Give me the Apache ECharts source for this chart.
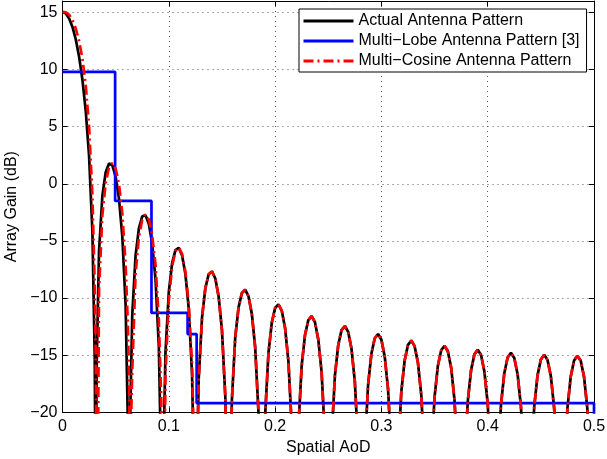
<!DOCTYPE html>
<html><head><meta charset="utf-8">
<script src="https://cdn.jsdelivr.net/npm/echarts@6/dist/echarts.min.js"></script>
<style>html,body{margin:0;padding:0;background:#fff}#c{width:607px;height:459px}</style>
</head><body><div id="c"></div>
<script>
// Spatial AoD sample positions
const aod = [
 0, 0.003125, 0.00625, 0.009375, 0.0125, 0.015625, 0.01875, 0.021875, 0.025, 0.028125, 0.030313, 0.030938, 0.03125,
 0.031563, 0.032188, 0.034375, 0.0375, 0.040625, 0.04375, 0.046875, 0.05, 0.053125, 0.05625, 0.059375, 0.061563, 0.0625,
 0.063438, 0.065625, 0.06875, 0.071875, 0.075, 0.078125, 0.08125, 0.084375, 0.0875, 0.090625, 0.092813, 0.09375,
 0.094688, 0.096875, 0.1, 0.103125, 0.10625, 0.109375, 0.1125, 0.115625, 0.11875, 0.121875, 0.124063, 0.125,
 0.125938, 0.128125, 0.13125, 0.134375, 0.1375, 0.140625, 0.14375, 0.146875, 0.15, 0.153125, 0.155313, 0.15625,
 0.157188, 0.159375, 0.1625, 0.165625, 0.16875, 0.171875, 0.175, 0.178125, 0.18125, 0.184375, 0.186563, 0.1875,
 0.188438, 0.190625, 0.19375, 0.196875, 0.2, 0.203125, 0.20625, 0.209375, 0.2125, 0.215625, 0.217813, 0.21875,
 0.219688, 0.221875, 0.225, 0.228125, 0.23125, 0.234375, 0.2375, 0.240625, 0.24375, 0.246875, 0.249063, 0.25,
 0.250938, 0.253125, 0.25625, 0.259375, 0.2625, 0.265625, 0.26875, 0.271875, 0.275, 0.278125, 0.280313, 0.28125,
 0.282188, 0.284375, 0.2875, 0.290625, 0.29375, 0.296875, 0.3, 0.303125, 0.30625, 0.309375, 0.311563, 0.3125,
 0.313438, 0.315625, 0.31875, 0.321875, 0.325, 0.328125, 0.33125, 0.334375, 0.3375, 0.340625, 0.342813, 0.34375,
 0.344688, 0.346875, 0.35, 0.353125, 0.35625, 0.359375, 0.3625, 0.365625, 0.36875, 0.371875, 0.374063, 0.375,
 0.375938, 0.378125, 0.38125, 0.384375, 0.3875, 0.390625, 0.39375, 0.396875, 0.4, 0.403125, 0.405313, 0.40625,
 0.407188, 0.409375, 0.4125, 0.415625, 0.41875, 0.421875, 0.425, 0.428125, 0.43125, 0.434375, 0.436563, 0.4375,
 0.438438, 0.440625, 0.44375, 0.446875, 0.45, 0.453125, 0.45625, 0.459375, 0.4625, 0.465625, 0.467813, 0.46875,
 0.469688, 0.471875, 0.475, 0.478125, 0.48125, 0.484375, 0.4875, 0.490625, 0.49375, 0.496875, 0.499063, 0.5
];
// Actual antenna pattern (dB)
const actualGain = [
 15.05, 14.91, 14.47, 13.73, 12.63, 11.13, 9.11, 6.37, 2.44, -4.17, -15.14, -24.85, -40,
 -25.02, -15.66, -5.90, -1.07, 1.01, 1.78, 1.62, 0.63, -1.30, -4.57, -10.62, -21.25, -40,
 -21.51, -11.47, -6.29, -3.89, -2.85, -2.76, -3.53, -5.26, -8.34, -14.22, -24.75, -40,
 -24.92, -14.78, -9.47, -6.95, -5.80, -5.60, -6.27, -7.90, -10.90, -16.70, -27.17, -40,
 -27.30, -17.11, -11.72, -9.14, -7.92, -7.67, -8.29, -9.86, -12.81, -18.56, -29.00, -40,
 -29.09, -18.88, -13.45, -10.82, -9.56, -9.27, -9.85, -11.39, -14.30, -20.02, -30.43, -40,
 -30.51, -20.27, -14.81, -12.16, -10.87, -10.55, -11.10, -12.62, -15.50, -21.19, -31.59, -40,
 -31.66, -21.40, -15.92, -13.24, -11.93, -11.59, -12.12, -13.62, -16.48, -22.16, -32.54, -40,
 -32.59, -22.33, -16.82, -14.13, -12.81, -12.45, -12.96, -14.44, -17.29, -22.94, -33.32, -40,
 -33.36, -23.08, -17.57, -14.86, -13.52, -13.15, -13.65, -15.11, -17.95, -23.59, -33.96, -40,
 -33.99, -23.70, -18.18, -15.46, -14.10, -13.72, -14.21, -15.66, -18.48, -24.11, -34.47, -40,
 -34.50, -24.21, -18.67, -15.93, -14.57, -14.17, -14.65, -16.09, -18.91, -24.53, -34.88, -40,
 -34.90, -24.60, -19.05, -16.31, -14.93, -14.53, -14.99, -16.43, -19.23, -24.84, -35.19, -40,
 -35.20, -24.89, -19.34, -16.58, -15.20, -14.79, -15.24, -16.67, -19.46, -25.07, -35.41, -40,
 -35.42, -25.10, -19.53, -16.77, -15.38, -14.96, -15.41, -16.82, -19.61, -25.20, -35.53, -40,
 -35.54, -25.22, -19.64, -16.87, -15.47, -15.04, -15.48, -16.89, -19.67, -25.25, -35.58, -40
];
// Multi-cosine antenna pattern (dB)
const multiCosineGain = [
 15.05, 15.01, 14.79, 14.32, 13.58, 12.50, 10.96, 8.59, 4.99, -0.99, -8.89, -12.56, -15.14,
 -18.74, -40, -9.28, -2.72, 0.08, 1.44, 1.82, 1.32, -0.02, -2.56, -7.05, -12.59, -16.75,
 -24.81, -16.38, -7.86, -4.65, -3.14, -2.69, -3.12, -4.53, -7.06, -11.95, -18.68, -24.75,
 -40, -16.62, -10.22, -7.22, -5.90, -5.58, -6.16, -7.69, -10.51, -15.88, -24.66, -40,
 -27.30, -17.11, -11.72, -9.14, -7.92, -7.67, -8.29, -9.86, -12.81, -18.56, -29.00, -40,
 -29.09, -18.88, -13.45, -10.82, -9.56, -9.27, -9.85, -11.39, -14.30, -20.02, -30.43, -40,
 -30.51, -20.27, -14.81, -12.16, -10.87, -10.55, -11.10, -12.62, -15.50, -21.19, -31.59, -40,
 -31.66, -21.40, -15.92, -13.24, -11.93, -11.59, -12.12, -13.62, -16.48, -22.16, -32.54, -40,
 -32.59, -22.33, -16.82, -14.13, -12.81, -12.45, -12.96, -14.44, -17.29, -22.94, -33.32, -40,
 -33.36, -23.08, -17.57, -14.86, -13.52, -13.15, -13.65, -15.11, -17.95, -23.59, -33.96, -40,
 -33.99, -23.70, -18.18, -15.46, -14.10, -13.72, -14.21, -15.66, -18.48, -24.11, -34.47, -40,
 -34.50, -24.21, -18.67, -15.93, -14.57, -14.17, -14.65, -16.09, -18.91, -24.53, -34.88, -40,
 -34.90, -24.60, -19.05, -16.31, -14.93, -14.53, -14.99, -16.43, -19.23, -24.84, -35.19, -40,
 -35.20, -24.89, -19.34, -16.58, -15.20, -14.79, -15.24, -16.67, -19.46, -25.07, -35.41, -40,
 -35.42, -25.10, -19.53, -16.77, -15.38, -14.96, -15.41, -16.82, -19.61, -25.20, -35.53, -40,
 -35.54, -25.22, -19.64, -16.87, -15.47, -15.04, -15.48, -16.89, -19.67, -25.25, -35.58, -40
];
// Multi-lobe (step) model: lobe edges and levels
const lobeEdges = [0, 0.0495, 0.0837, 0.1177, 0.1262, 0.5];
const lobeLevels = [9.8, -1.5, -11.3, -13.15, -19.2];
const belowAxis = -40;
// Tick values / labels
const xTicks = [0, 0.1, 0.2, 0.3, 0.4, 0.5];
const yTicks = [-20, -15, -10, -5, 0, 5, 10, 15];
const yMax = 16;
const seriesNames = ['Actual Antenna Pattern', 'Multi\u2212Lobe Antenna Pattern [3]', 'Multi\u2212Cosine Antenna Pattern'];
const xName = 'Spatial AoD';
const yName = 'Array Gain (dB)';

const fam = '"Liberation Sans", Arial, Helvetica, sans-serif';
const pairs = (xs, ys) => xs.map((x, i) => [x, ys[i]]);
const stepData = [];
lobeLevels.forEach((lv, i) => { stepData.push([lobeEdges[i], lv]); stepData.push([lobeEdges[i + 1], lv]); });
stepData.push([lobeEdges[lobeEdges.length - 1], belowAxis]);
const fmt = v => (v < 0 ? '\u2212' + Math.abs(v) : String(v));

const chart = echarts.init(document.getElementById('c'), null, {renderer: 'canvas'});
const baseAxis = {
  axisLine: {show: true, onZero: false, lineStyle: {color: '#000', width: 1}},
  axisTick: {show: true, inside: true, length: 5, lineStyle: {color: '#000', width: 1}}
};
chart.setOption({
  animation: false,
  backgroundColor: '#fff',
  grid: {left: 62.5, right: 13, top: 1, bottom: 46.7, containLabel: false, outerBoundsMode: 'none'},
  legend: {
    orient: 'vertical', left: 299, top: 9,
    backgroundColor: '#fff', borderColor: '#000', borderWidth: 1, borderRadius: 0,
    padding: [2, 7, 1, 3],
    itemWidth: 50, itemHeight: 14, itemGap: 0,
    itemStyle: {color: 'rgba(0,0,0,0)', borderWidth: 0, opacity: 0},
    lineStyle: {width: 3},
    textStyle: {fontFamily: fam, fontSize: 16, color: '#000', lineHeight: 20},
    data: seriesNames
  },
  xAxis: [
    Object.assign({}, baseAxis, {
      type: 'value', position: 'bottom', min: xTicks[0], max: xTicks[xTicks.length - 1], interval: xTicks[1] - xTicks[0],
      name: xName, nameLocation: 'middle', nameGap: 27,
      nameTextStyle: {fontFamily: fam, fontSize: 16, color: '#000'},
      axisLabel: {fontFamily: fam, fontSize: 16, color: '#000', margin: 6, formatter: v => fmt(+v.toFixed(2))},
      splitLine: {show: true, lineStyle: {color: '#555', width: 1, type: [1, 4]}}
    }),
    Object.assign({}, baseAxis, {
      type: 'value', position: 'top', min: xTicks[0], max: xTicks[xTicks.length - 1], interval: xTicks[1] - xTicks[0],
      axisLabel: {show: false}, splitLine: {show: false}
    })
  ],
  yAxis: [
    Object.assign({}, baseAxis, {
      type: 'value', position: 'left', min: yTicks[0], max: yMax, interval: yTicks[1] - yTicks[0],
      name: yName, nameLocation: 'middle', nameGap: 37, nameRotate: 90,
      nameTextStyle: {fontFamily: fam, fontSize: 16, color: '#000'},
      axisLabel: {fontFamily: fam, fontSize: 16, color: '#000', margin: 5,
        formatter: v => (yTicks.indexOf(v) >= 0 ? fmt(v) : '')},
      splitLine: {show: true, lineStyle: {color: '#555', width: 1, type: [1, 4]}}
    }),
    Object.assign({}, baseAxis, {
      type: 'value', position: 'right', min: yTicks[0], max: yMax, interval: yTicks[1] - yTicks[0],
      axisLabel: {show: false}, splitLine: {show: false}
    })
  ],
  series: [
    {name: seriesNames[0], type: 'line', data: pairs(aod, actualGain), showSymbol: false, symbol: 'none',
     xAxisIndex: 0, yAxisIndex: 0, clip: true,
     lineStyle: {color: '#000', width: 2.7}, itemStyle: {color: '#000'}},
    {name: seriesNames[1], type: 'line', data: stepData, showSymbol: false, symbol: 'none',
     xAxisIndex: 0, yAxisIndex: 0, clip: true,
     lineStyle: {color: '#0000ff', width: 2.7}, itemStyle: {color: '#0000ff'}},
    {name: seriesNames[2], type: 'line', data: pairs(aod, multiCosineGain), showSymbol: false, symbol: 'none',
     xAxisIndex: 0, yAxisIndex: 0, clip: true,
     lineStyle: {color: '#ff0000', width: 2.7, type: [10, 4, 2, 4]}, itemStyle: {color: '#ff0000'}}
  ]
});
</script>
</body></html>
